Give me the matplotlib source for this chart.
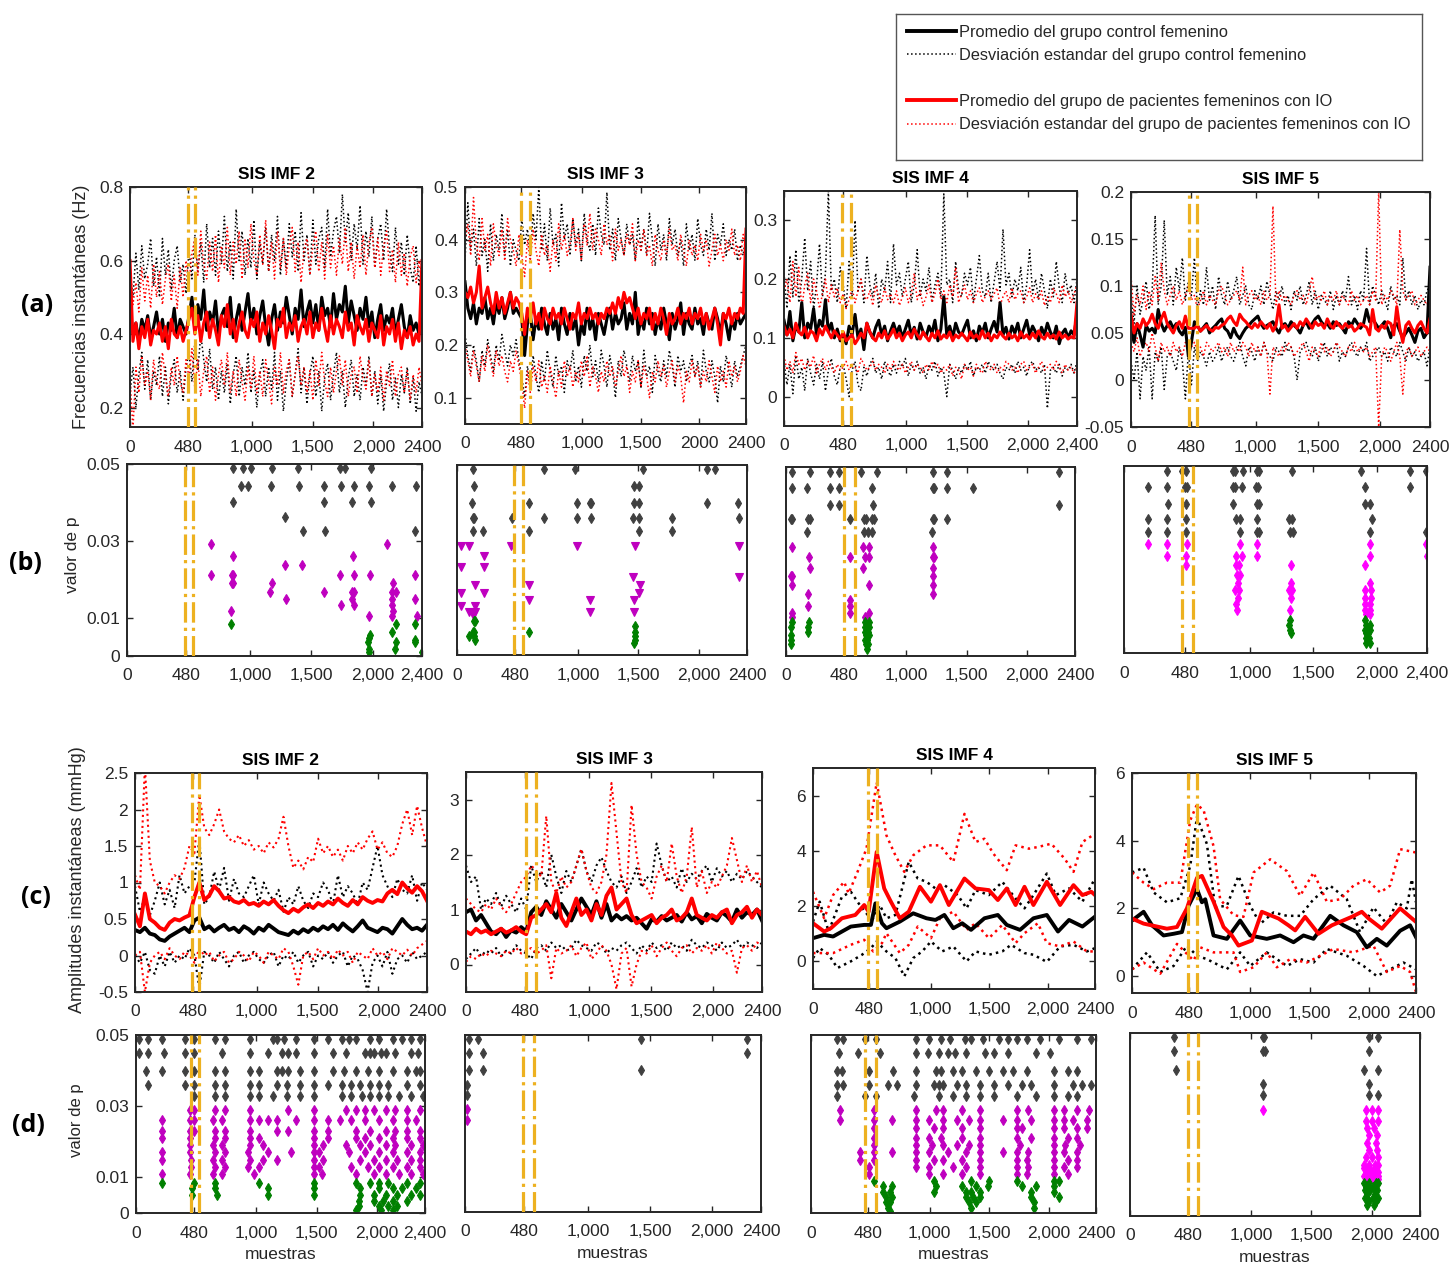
import numpy as np
import matplotlib
matplotlib.use("Agg")
import matplotlib.pyplot as plt
from matplotlib.lines import Line2D

plt.rcParams['font.family'] = ['Liberation Sans', 'DejaVu Sans']

# ---------------------------------------------------------------- data
# Row (a): instantaneous frequencies, values in Hz x100 (a1,a2) or x1000 (a3,a4)
a1_ctrl_mean = [47,40,43,38,44,41,45,39,42,46,40,44,38,43,41,47,39,44,42,40,
                45,50,42,48,44,52,41,46,43,49,40,45,47,42,50,39,44,48,41,46,
                51,43,47,40,45,49,42,37,44,48,41,46,43,50,45,40,47,44,52,42,
                46,49,43,48,41,50,45,47,42,51,44,48,46,53,43,49,45,41,47,44,
                50,42,46,39,44,48,41,45,43,47,40,44,48,42,39,45,41,43,40,44]
a1_pat_mean = [60,38,43,36,42,39,44,37,41,40,43,38,42,36,44,40,39,42,38,41,
               44,47,40,45,38,43,46,39,44,41,37,45,42,48,40,44,38,43,46,41,
               39,44,42,46,38,43,40,45,41,36,44,42,47,39,43,41,45,38,42,44,
               40,46,39,43,41,47,42,38,45,40,44,42,39,46,41,43,37,45,42,40,
               44,38,43,41,39,45,37,42,40,44,38,43,36,41,39,42,37,40,38,60]
a1_ctrl_hi = [57,50,62,52,64,55,59,66,53,61,50,66,56,63,52,60,64,54,59,51,
              63,55,67,57,65,54,70,58,66,56,68,59,72,57,65,55,74,60,68,56,
              66,58,71,55,65,59,69,57,67,60,72,56,66,58,70,61,68,57,73,60,
              67,56,71,59,66,69,58,74,61,68,72,62,78,65,73,60,70,63,75,59,
              68,61,72,58,66,70,60,74,63,57,69,59,65,56,67,58,54,64,53,60]
a1_pat_hi = [56,48,54,46,58,49,56,47,59,50,57,48,55,59,49,56,47,58,50,60,
             54,62,66,56,68,59,55,65,57,67,54,64,58,69,56,65,59,68,55,66,
             58,70,60,56,67,59,71,57,65,55,68,58,66,56,64,69,57,65,54,63,
             66,56,64,68,57,65,55,67,58,64,56,66,59,69,57,65,55,64,58,67,
             56,65,69,58,66,56,64,68,57,63,54,65,56,62,53,61,64,54,60,52]
a1_ctrl_lo = [24,31,20,29,35,25,33,22,30,26,34,23,31,21,29,33,24,30,22,31,
              35,27,38,30,40,33,27,36,25,31,22,30,24,32,21,29,34,23,31,26,
              35,24,30,20,29,33,23,31,25,35,22,30,19,27,33,23,29,36,24,31,
              21,29,34,23,30,19,28,32,22,29,35,24,30,20,28,33,23,29,22,31,
              26,34,23,30,21,29,19,27,32,22,28,20,29,24,31,21,28,19,27,23]
a1_pat_lo = [28,14,31,24,34,26,30,22,33,27,25,35,28,23,31,26,34,27,24,33,
             28,36,25,33,23,30,34,24,31,22,29,33,26,35,24,30,23,33,27,22,
             31,25,34,24,30,23,33,27,21,31,26,35,24,30,33,23,29,34,26,31,
             24,30,22,33,26,35,27,23,31,24,30,34,26,33,23,29,31,24,34,28,
             25,33,23,29,24,31,22,30,26,33,23,29,31,24,30,22,29,24,31,26]

a2_ctrl_mean = [32,27,25,28,24,27,26,29,25,27,24,28,26,29,25,27,30,26,27,26,
                25,18,24,26,21,25,23,27,24,22,26,23,25,21,27,24,22,26,23,25,
                20,24,22,27,23,25,21,26,24,22,25,27,23,26,24,25,28,23,26,24,
                30,22,25,23,27,24,26,22,25,23,27,24,21,26,23,25,28,22,26,24,
                23,27,24,25,22,26,24,23,27,25,22,26,24,21,25,23,26,24,25,26]
a2_pat_mean = [30,29,31,28,30,35,27,29,31,28,26,30,27,29,26,28,30,27,29,28,
               26,22,27,25,28,24,26,23,27,25,24,27,25,26,24,27,25,23,26,25,
               28,24,26,25,27,25,26,24,26,25,27,26,28,26,29,27,30,28,29,27,
               25,27,24,26,25,27,23,26,24,27,25,22,26,24,25,27,24,26,25,27,
               24,26,25,27,24,26,23,25,27,24,20,26,25,27,24,26,25,27,26,42]
a2_ctrl_hi = [36,47,38,42,35,44,37,40,34,43,36,41,38,45,37,42,35,40,38,36,
              44,39,42,37,45,40,50,38,43,36,46,39,41,35,47,40,43,37,44,39,
              42,36,45,40,38,43,37,46,41,39,49,38,42,36,44,40,37,43,39,41,
              36,44,38,42,37,45,40,35,43,38,41,36,44,39,42,37,40,35,43,38,
              41,36,44,39,37,42,38,45,36,41,39,43,37,40,38,42,36,39,37,41]
a2_pat_hi = [40,43,37,48,39,36,44,38,41,35,43,39,37,42,36,44,40,38,35,41,
             37,33,40,36,42,38,35,41,37,39,34,40,36,43,38,41,37,39,44,38,
             41,36,43,39,45,38,42,40,37,43,39,41,36,42,38,40,37,41,39,43,
             36,40,38,42,37,39,35,41,38,36,40,37,42,38,39,36,41,38,35,40,
             37,39,36,41,38,40,35,38,41,37,39,36,40,38,42,37,39,36,41,39]
a2_ctrl_lo = [22,18,15,20,17,13,19,16,21,18,15,20,17,22,19,16,20,18,21,17,
              14,10,16,12,18,14,11,17,13,19,15,12,18,14,16,11,17,15,19,13,
              16,12,18,15,20,14,17,13,19,16,12,18,15,10,17,14,19,16,13,18,
              15,17,12,19,14,16,11,18,15,13,17,14,19,16,12,18,15,17,13,16,
              18,14,17,12,19,15,13,17,14,9,16,13,18,15,12,17,14,16,18,20]
a2_pat_lo = [20,17,14,19,16,13,18,15,20,17,14,19,16,18,15,13,17,15,19,16,
             13,8,15,11,16,13,17,12,14,11,16,13,10,15,12,17,14,16,12,15,
             13,17,14,18,12,16,14,11,15,13,17,14,16,12,15,18,14,16,11,15,
             13,17,12,16,14,10,15,13,17,14,16,12,15,17,13,16,14,9,15,13,
             17,14,16,12,15,13,17,14,11,16,13,15,12,17,14,16,13,15,18,16]

a3_ctrl_mean = [130,105,145,95,120,110,160,100,125,115,150,105,130,120,165,110,125,100,115,95,
                108,90,120,105,140,100,115,80,125,110,100,118,130,105,120,95,112,125,108,120,
                100,115,130,105,118,98,125,110,102,120,108,130,95,115,170,105,120,100,125,110,
                105,118,130,100,112,95,120,108,125,100,115,128,110,160,105,118,98,120,108,125,
                100,115,130,105,120,110,95,118,105,125,110,100,120,90,108,115,100,112,105,140]
a3_pat_mean = [120,105,115,100,125,110,105,118,100,112,108,95,115,105,120,110,100,112,105,98,
               110,95,100,105,90,98,108,100,125,110,100,95,108,100,112,98,105,115,100,108,
               95,105,110,100,115,105,98,110,102,95,108,100,112,98,105,100,110,95,105,100,
               108,102,95,110,100,105,98,112,100,108,95,105,100,110,103,98,108,100,105,95,
               110,100,105,98,108,100,112,102,98,108,100,105,98,110,100,105,98,102,100,160]
a3_ctrl_hi = [210,150,240,170,250,160,200,270,180,230,150,190,260,170,210,350,180,200,160,220,
              190,150,230,170,300,180,200,160,240,190,170,210,150,200,180,230,160,260,190,210,
              170,200,230,160,190,250,170,200,180,220,160,190,210,170,345,190,200,160,230,180,
              170,210,190,220,160,200,240,180,170,210,160,195,230,180,285,190,210,170,200,180,
              220,160,190,250,175,200,165,210,180,150,200,170,230,185,160,210,175,190,160,200]
a3_pat_hi = [180,200,160,230,170,220,150,190,210,160,200,180,150,175,200,160,190,170,185,160,
             175,150,165,185,160,180,200,170,165,180,155,190,170,160,185,165,175,160,180,155,
             170,185,160,175,210,165,180,155,170,190,160,175,200,165,180,160,190,170,220,160,
             175,190,165,180,160,175,185,160,170,180,165,175,185,155,170,180,160,185,165,175,
             180,160,170,185,160,175,165,180,155,170,160,185,175,160,190,170,180,160,175,190]
a3_ctrl_lo = [60,20,55,5,70,30,50,10,65,40,20,55,30,60,10,45,65,35,20,50,
              55,30,0,45,60,20,10,50,35,55,65,40,50,30,60,45,35,55,40,60,
              50,65,35,55,45,60,40,50,30,55,45,60,35,50,40,0,55,45,30,50,
              40,55,45,60,35,50,45,55,40,60,50,45,55,40,30,50,45,55,40,60,
              45,50,35,55,60,45,50,40,55,-20,45,50,40,55,35,50,45,55,40,60]
a3_pat_lo = [70,45,60,40,75,55,65,45,60,50,70,40,55,65,45,60,50,40,55,45,
             50,60,45,55,50,40,65,55,45,50,60,45,55,50,40,55,45,60,50,45,
             55,40,50,60,45,55,50,40,55,45,60,50,55,40,50,45,55,35,50,45,
             30,55,45,50,35,55,45,40,60,50,45,55,40,50,45,60,55,45,50,40,
             55,60,45,50,55,40,50,60,45,50,55,45,60,50,40,55,45,50,40,50]

a4_ctrl_mean = [55,40,60,48,35,58,52,55,50,75,60,52,58,62,55,60,52,48,56,25,
                40,62,58,52,56,60,50,55,58,62,65,55,52,45,55,48,44,50,55,58,
                62,65,68,60,55,58,60,62,55,50,58,60,55,62,58,55,50,58,62,55,
                60,65,68,62,58,60,55,62,58,60,55,50,62,58,65,60,55,60,75,62,
                65,60,55,58,62,55,45,58,60,52,45,50,55,48,40,52,55,45,50,120]
a4_pat_mean = [70,50,60,55,65,58,62,70,60,55,65,72,60,55,50,58,62,55,68,55,
               55,55,58,52,55,58,54,52,56,55,58,60,65,68,62,58,70,65,62,58,
               55,60,56,62,58,55,60,52,58,80,55,58,52,56,60,55,62,58,65,60,
               55,62,58,60,55,65,58,55,62,58,55,60,56,58,52,55,60,58,56,48,
               75,55,52,58,55,62,60,48,78,55,40,58,62,55,50,58,62,55,50,65]
a4_ctrl_hi = [90,60,100,70,85,105,75,95,175,80,100,170,90,110,80,120,95,130,85,105,
              90,130,75,95,80,120,85,100,75,110,90,80,105,85,95,110,80,90,100,80,
              75,95,85,100,80,105,90,75,95,85,100,80,90,75,95,85,100,80,90,105,
              80,95,75,90,85,80,95,75,90,80,95,85,110,80,90,75,95,85,140,80,
              100,90,80,95,85,75,100,85,90,80,130,85,95,80,90,75,85,80,95,100]
a4_pat_hi = [110,70,90,80,100,75,95,80,110,85,125,95,80,90,100,85,95,80,90,100,
             85,90,75,85,95,80,90,85,80,95,100,90,80,85,90,95,85,120,80,90,
             95,85,90,80,95,85,90,185,80,95,85,90,85,80,90,95,85,90,80,95,
             110,85,90,85,95,80,90,85,95,80,90,85,80,95,85,90,80,85,90,80,
             95,85,200,80,90,85,95,90,80,160,95,85,90,95,80,85,90,85,80,90]
a4_ctrl_lo = [20,0,30,-20,25,10,35,-20,30,20,35,-10,25,30,20,10,35,20,-20,30,
              -5,35,20,30,25,15,30,20,25,35,20,30,35,25,20,30,40,25,15,35,
              30,20,35,25,40,30,25,20,35,30,25,40,30,35,25,0,30,35,40,30,
              25,35,20,30,40,25,35,30,40,20,30,25,35,40,30,25,35,30,40,20,
              25,30,35,25,30,20,35,30,25,40,30,20,35,25,30,20,25,30,15,35]
a4_pat_lo = [40,30,45,25,35,40,30,50,35,20,40,30,35,25,40,30,35,25,40,30,
             35,40,30,35,25,40,35,30,35,40,30,35,25,40,30,35,30,40,35,25,
             40,30,35,25,40,30,-15,35,30,25,35,30,40,35,25,30,35,40,30,20,
             35,30,25,40,30,35,25,30,40,35,30,25,35,30,40,30,35,30,35,25,
             30,35,-50,25,35,30,20,30,40,25,-15,30,35,25,30,35,25,30,35,30]

# Row (c): instantaneous amplitudes, mmHg x100 (c1, c2)
c1_ctrl_mean = [35,32,38,30,28,22,20,26,30,34,38,32,48,52,36,40,33,38,42,35,
                38,32,40,36,30,38,34,42,37,32,30,28,34,30,36,32,38,34,40,36,
                42,35,44,38,33,40,48,38,35,32,38,36,30,40,50,42,36,38,34,42]
c1_pat_mean = [56,40,85,50,45,38,35,45,50,48,52,55,80,100,76,82,95,88,78,80,
               74,72,76,70,72,68,74,70,76,68,62,58,64,60,66,70,65,72,68,74,
               70,78,72,68,76,70,80,75,72,76,74,85,90,84,100,92,86,95,88,75]
c1_pat_hi = [110,90,260,130,100,95,85,100,110,105,120,150,140,220,175,165,180,200,170,160,
             155,165,150,158,145,150,140,155,148,160,190,150,120,130,118,135,128,160,140,150,
             135,145,130,150,140,155,145,160,170,145,155,140,135,150,180,200,165,205,175,150]
c1_pat_lo = [0,5,-50,-10,0,5,-5,10,0,-5,5,0,-10,10,0,5,-8,0,5,-10,
             -5,5,0,-8,5,0,-10,5,0,-5,10,5,-15,-40,0,5,-5,10,0,5,
             -5,8,0,5,-10,5,0,-5,10,0,5,-5,10,5,0,8,0,10,15,20]
c1_ctrl_hi = [95,60,80,55,75,100,70,90,65,110,85,95,100,160,70,80,115,90,120,75,
              105,85,80,95,110,70,100,85,75,90,60,80,70,95,75,65,85,80,100,90,
              70,110,80,95,85,70,100,90,120,150,110,95,80,105,90,85,110,75,100,90]
c1_ctrl_lo = [0,-10,5,-20,-25,0,-15,5,-10,0,-5,10,0,-45,5,0,-10,5,-5,-15,
              0,5,-10,0,5,-5,-10,0,5,-15,0,-5,5,-10,0,5,-15,0,-5,5,
              -10,0,5,-15,0,-5,-20,-50,-10,0,-15,5,-25,-5,0,-10,5,-5,0,5]

c2_ctrl_mean = [95,100,80,90,75,60,55,65,50,62,58,68,60,95,105,90,115,100,85,110,
                95,80,100,120,105,90,115,85,110,80,90,82,88,80,85,75,65,82,78,88,
                80,85,90,78,95,82,88,75,92,85,80,95,88,78,100,85,95,90,100,80]
c2_pat_mean = [60,55,65,58,62,55,60,65,58,62,68,60,55,85,90,100,110,95,130,85,
               70,95,120,90,100,80,110,90,125,140,100,110,120,90,75,80,85,90,75,85,
               90,100,80,85,95,120,90,85,80,90,85,95,100,75,90,95,105,85,100,90]
c2_pat_hi = [120,110,100,95,110,100,120,105,95,110,130,150,160,180,170,160,270,150,130,160,
             140,150,180,210,170,140,130,150,200,330,240,150,130,290,200,150,140,120,160,180,
             150,220,160,130,160,250,140,170,130,150,140,160,180,230,190,150,180,150,170,140]
c2_pat_lo = [5,15,10,20,15,25,20,15,25,20,30,20,25,30,20,25,35,-25,30,20,
             25,35,15,30,40,10,20,35,25,0,-45,20,30,-40,0,25,20,35,15,30,
             40,25,15,30,35,20,30,25,35,20,40,30,20,25,-15,30,35,25,40,35]
c2_ctrl_hi = [180,150,160,100,120,110,130,105,125,110,95,120,100,180,150,170,140,200,160,130,
              170,150,180,210,170,150,180,195,170,150,140,160,130,150,175,140,160,150,220,180,
              150,160,140,175,150,165,155,170,180,150,175,160,170,150,165,155,170,160,150,140]
c2_ctrl_lo = [10,20,30,15,25,20,30,15,25,20,35,25,20,10,30,35,25,40,30,35,
              25,30,45,35,30,25,40,35,20,30,25,35,40,30,20,35,25,40,30,35,
              25,40,30,35,25,45,35,30,40,35,25,40,30,35,45,30,40,35,30,40]

# c3, c4: smooth curves, (sample, mmHg)
c3_ctrl_mean_x = [0,95,171,322,436,493,531,587,625,739,853,966,1042,1118,1194,1270,1345,1459,1573,1649,1762,1876,1990,2085,2179,2293,2400]
c3_ctrl_mean = [0.84,0.96,0.9,1.26,1.32,1.32,2.1,1.38,1.2,1.44,1.74,1.56,1.5,1.68,1.2,1.38,1.14,1.56,1.68,1.32,1.14,1.56,1.68,1.08,1.5,1.26,1.62]
c3_pat_mean_x = [0,95,152,246,360,436,474,542,606,663,739,815,910,1004,1080,1156,1289,1383,1497,1573,1649,1724,1800,1876,1990,2103,2217,2293,2369,2400]
c3_pat_mean = [1.38,1.08,1.2,1.56,1.68,2.04,1.8,3.96,2.64,2.16,1.56,1.8,2.7,2.16,2.76,2.04,3.0,2.64,2.58,2.22,2.64,2.04,2.7,2.04,2.88,2.04,2.76,2.4,2.52,2.4]
c3_pat_hi_x = [0,95,171,265,303,379,455,542,625,701,777,853,966,1080,1194,1289,1383,1459,1535,1649,1724,1838,1914,2028,2141,2217,2293,2400]
c3_pat_hi = [2.52,1.56,2.4,2.88,2.46,3.24,4.08,6.48,4.56,3.84,3.24,3.84,4.2,4.2,3.6,5.34,4.32,4.44,3.9,3.3,4.2,4.08,4.14,4.26,3.72,3.24,4.32,4.62]
c3_pat_lo_x = [0,171,322,436,512,587,625,739,815,891,1004,1080,1194,1307,1383,1497,1611,1724,1800,1914,1990,2103,2217,2331,2400]
c3_pat_lo = [0.3,0.3,0.6,0.78,0.36,0.66,1.02,0.3,0.6,1.26,0.84,1.56,1.8,1.14,1.38,0.84,1.32,0.66,1.02,1.38,0.66,0.54,0.72,0.36,0.36]
c3_ctrl_hi_x = [0,57,133,246,322,398,466,512,568,625,701,815,891,966,1042,1118,1232,1307,1383,1497,1611,1724,1800,1876,1990,2066,2179,2293,2400]
c3_ctrl_hi = [1.44,2.16,1.08,2.34,2.52,2.04,1.68,1.56,2.04,1.56,1.68,3.6,3.0,2.88,2.64,2.76,2.4,1.92,2.58,2.4,2.88,2.28,1.92,2.4,3.18,2.4,2.64,2.16,3.0]
c3_ctrl_lo_x = [0,57,133,208,322,417,493,542,625,701,777,853,929,1004,1099,1194,1307,1383,1497,1611,1686,1800,1876,1990,2103,2217,2331,2400]
c3_ctrl_lo = [0.12,0.48,0.24,-0.24,0.0,0.24,0.48,0.72,0.36,0.12,-0.54,0.12,0.36,0.72,0.36,0.54,0.0,0.36,0.24,0.36,0.6,0.3,0.24,-0.02,0.54,0.6,0.36,0.48]

c4_ctrl_mean_x = [0,98,169,267,352,422,478,549,591,619,689,802,914,999,1139,1252,1365,1449,1534,1675,1787,1899,1984,2069,2153,2266,2350,2400]
c4_ctrl_mean = [1.64,1.9,1.5,1.2,1.25,1.3,2.08,2.57,2.18,2.27,1.2,1.1,1.64,1.2,1.1,1.2,1.0,1.2,1.1,1.78,1.5,1.3,0.85,1.1,0.9,1.34,1.5,1.15]
c4_pat_mean_x = [0,98,295,380,464,549,591,689,774,844,900,1013,1097,1238,1322,1379,1463,1576,1689,1857,1942,2000,2111,2266,2400]
c4_pat_mean = [1.7,1.55,1.4,1.45,2.0,2.9,2.96,2.2,1.45,1.2,0.9,1.05,1.9,1.7,1.5,1.35,1.75,1.25,1.5,1.75,1.9,1.7,1.4,2.0,1.6]
c4_pat_hi_x = [0,98,183,295,408,492,549,605,689,745,858,942,1027,1168,1309,1421,1534,1646,1759,1871,1984,2097,2181,2266,2400]
c4_pat_hi = [3.06,2.76,2.57,2.76,2.76,4.6,5.07,4.9,3.84,2.27,1.8,1.75,3.06,3.45,3.1,2.37,3.06,2.2,2.27,2.67,2.86,2.47,2.67,3.75,3.65]
c4_pat_lo_x = [0,98,239,380,520,577,689,858,914,1027,1139,1224,1337,1477,1703,1871,2040,2153,2266,2350,2400]
c4_pat_lo = [0.2,0.4,0.07,0.95,0.46,0.85,0.7,0.7,0.12,0.26,0.7,0.26,0.5,0.4,0.8,0.7,0.9,0.12,0.3,0.12,-0.47]
c4_ctrl_hi_x = [0,98,183,295,408,492,549,633,703,802,900,999,1083,1196,1309,1421,1534,1675,1815,1927,2040,2153,2238,2322,2364,2400]
c4_ctrl_hi = [3.06,3.2,2.47,2.18,2.3,3.25,4.7,3.9,2.03,2.08,2.96,2.08,1.54,1.88,1.78,1.78,2.27,2.67,2.27,1.3,2.03,1.54,2.18,2.0,2.86,2.18]
c4_ctrl_lo_x = [0,127,239,352,464,549,633,802,914,999,1139,1309,1421,1534,1646,1815,1956,2069,2181,2294,2400]
c4_ctrl_lo = [0.2,0.7,0.12,0.3,0.9,0.6,0.5,0.2,0.7,0.3,0.7,0.3,0.5,0.4,0.8,0.6,0.3,0.0,0.2,0.4,0.2]

# Onset markers (two vertical dash-dot lines per panel), in samples
onset_a = [[476, 536], [476, 555], [478, 546], [467, 526]]
onset_b = [[473, 534], [474, 546], [484, 570], [456, 549]]
onset_c = [[471, 528], [484, 564], [466, 542], [470, 549]]
onset_d = [[460, 521], [472, 562], [452, 545], [483, 560]]

# Row (b) and (d): p-values {p: [sample positions]}
b1_p = {0.049: [860,941,1006,1177,1389,1733,1774,1982],
        0.0444: [925,982,1169,1399,1603,1738,1849,1969,2159,2351],
        0.0402: [860,1603,1828,1982], 0.0361: [1285], 0.0326: [1429,1611,2340],
        0.0292: [681,2113], 0.0261: [860,1836], 0.0236: [1285,1421],
        0.0211: [681,852,865,1733,1847,1977,2343], 0.0189: [852,865,1177,2161],
        0.0167: [1163,1603,1828,1847,2153,2186], 0.0148: [1291,1828,2159,2343],
        0.0133: [1738,1847,2153], 0.0116: [846,2167], 0.0105: [1969,2153,2357],
        0.0083: [846,2188,2343], 0.0063: [2153], 0.0055: [1977], 0.0047: [1969],
        0.0042: [2343], 0.0036: [1963,2186,2343], 0.0017: [1969,2180], 0.0011: [1969,2397]}
b2_p = {0.049: [130,723,977,1539,2069,2138], 0.0446: [138,1462,1509],
        0.0401: [124,593,993,1103,1112,1462,1503,2069,2326],
        0.036: [135,141,455,723,993,1112,1454,1509,1777,2331],
        0.0326: [130,212,593,1509,1777],
        0.0288: [33,97,450,993,1470,2331], 0.026: [221], 0.0232: [33,221],
        0.0206: [1454,2331], 0.0184: [146,593,1512], 0.0164: [33,221,1503],
        0.0145: [593,1103,1462], 0.013: [33,146], 0.0114: [97,152,1103,1462],
        0.0105: [130], 0.009: [138,146], 0.0076: [1470], 0.0061: [132,143,593,1470],
        0.0051: [97,138,1470], 0.0039: [152,1470], 0.0031: [1462]}
b3_p = {0.0488: [50,196,362,440,625,755,1217,1341,2270],
        0.0444: [50,174,362,440,711,1217,1230,1341,1551],
        0.040: [362,440,722,2270],
        0.0362: [41,50,180,196,534,644,663,716,727,1217,1230,1341],
        0.0327: [174,644,677,716,1211],
        0.0289: [50,636,686,1219], 0.0261: [188,534,652,686,1217,1225],
        0.0234: [196,636,1219], 0.0212: [41,50,1219], 0.0188: [50,686,1219],
        0.0165: [182,1219], 0.0148: [534], 0.0133: [182,534], 0.0114: [50,534,686],
        0.0104: [50,658], 0.009: [50,188,658,686], 0.0077: [41,182,652,691],
        0.0064: [182,652,680], 0.0055: [41,663,686], 0.0042: [41,652,672],
        0.0033: [41,663,677], 0.0019: [672]}
b4_p = {0.0487: [338,456,491,860,878,944,1050,1071,1334,1880,2263,2394],
        0.0444: [193,338,483,501,860,878,931,1044,1063,1907,2263],
        0.0398: [351,491,860,1050,1071,1907,1951],
        0.0358: [193,338,491,891,918,1050,1308,1329,1965],
        0.0324: [193,338,491,918,1050,1071,1313,1340,1951,2394],
        0.0291: [193,338,496,918,1055,1951,2394],
        0.0259: [338,491,886,931,1055,1951,2400],
        0.0234: [491,891,912,1326,1907], 0.0209: [897,918], 0.0187: [904,1326,1951],
        0.0169: [883,912,1305,1334,1907,1959], 0.0148: [904,1326,1907,1959],
        0.0131: [891,1907,1951], 0.0115: [897,1313,1907,1951], 0.0105: [1920,1951],
        0.0089: [1313,1907], 0.0075: [1308,1920,1946], 0.0062: [1313,1907,1951],
        0.0053: [1326,1920,1933], 0.004: [1914,1941], 0.0027: [1920,1946]}

d1_p = {0.049: [23,100,215,406,483,659,736,943,1135,1173,1227,1327,1480,1595,1710,1771,1825,1940,2017,2132,2209,2285,2362],
        0.045: [23,100,230,406,483,713,943,1097,1212,1265,1327,1480,1633,1748,1902,1940,1978,2032,2078,2155,2285,2339],
        0.040: [84,215,406,483,659,736,943,1020,1173,1212,1265,1365,1480,1633,1725,1825,1925,2017,2132,2247,2323,2362],
        0.036: [100,406,483,659,736,943,1020,1173,1250,1365,1480,1595,1710,1787,1863,1940,2017,2093,2247,2362],
        0.033: [483,659,736,943,1020,1135,1250,1365,1480,1710,1787,1879,1940,2017,2093,2185,2285,2385],
        0.029: [445,483,659,736,943,1265,1480,1748,1825,1902,1978,2078,2155,2247,2362],
        0.026: [215,445,483,636,713,943,1020,1097,1173,1327,1480,1595,1695,1787,1902,2017,2132,2247,2323],
        0.023: [215,445,483,652,736,943,1173,1265,1480,1595,1825,1940,2078,2155,2247,2362],
        0.021: [215,445,659,736,943,1020,1480,1595,1825,1902,2017,2132,2247,2362],
        0.019: [445,636,713,943,1058,1480,1557,1748,1863,1940,2078,2155,2285,2385],
        0.017: [215,445,659,736,928,1097,1288,1480,1518,1771,1902,2017,2132,2247,2362],
        0.015: [215,460,636,713,943,1058,1173,1480,1557,1863,1978,2078,2170,2285,2362],
        0.013: [460,659,736,928,1020,1480,1518,1787,1925,2017,2132,2247,2362],
        0.011: [215,445,636,713,981,1480,1541,1825,1978,2078,2185,2285,2385],
        0.0085: [215,483,659,1020,1480,1825,1940,2017,2093,2247,2362],
        0.007: [468,659,1097,1480,1863,2017,2132,2209,2323],
        0.005: [468,675,1097,1480,1863,1978,2078,2170,2285,2362],
        0.0035: [1848,1978,2055,2132,2247], 0.002: [1848,2017,2093,2170],
        0.0008: [1825,2032,2132]}
d2_p = {0.049: [30,105,1425,2288], 0.045: [30,150,2288], 0.040: [30,150,1425],
        0.036: [15], 0.033: [15], 0.029: [15], 0.026: [15]}
d3_p = {0.049: [218,273,452,545,880,997,1091,1169,1293,1348,1449,1581,1659,1737,1815,1932,2088,2243,2360],
        0.045: [234,397,584,880,982,1075,1153,1215,1309,1465,1542,1659,1893,2010],
        0.040: [218,257,491,693,880,1052,1098,1192,1270,1387,1503,1620,1698,1815,2049,2166,2243],
        0.036: [218,273,491,647,724,880,1036,1075,1114,1231,1309,1426,1542,1659,1776,1854,2049,2205,2282,2360],
        0.033: [218,452,545,865,1075,1192,1309,1426,1542,1737,1893,2049,2166,2243],
        0.029: [241,530,880,1052,1114,1270,1426,1737,1831,2049,2127,2243,2345],
        0.026: [241,530,686,880,997,1114,1231,1332,1426,1620,1737,1854,2049,2127,2205,2321],
        0.024: [530,880,1036,1114,1270,1426,1737,1776,2049,2127,2243,2321],
        0.021: [530,880,997,1091,1270,1426,1737,1854,2049,2166,2243],
        0.019: [530,880,1020,1114,1231,1332,1426,1760,2049,2142,2267],
        0.017: [413,530,686,880,997,1153,1309,1426,1620,1737,1831,2049,2127,2243],
        0.015: [413,530,880,1036,1114,1270,1426,1737,1815,2049,2166,2243],
        0.013: [491,880,997,1192,1309,1426,1737,1831,2049,2127,2243],
        0.011: [491,997,1114,1270,1426,1737,1815,2049,2166],
        0.009: [530,1036,1348,1503,1737,2049,2088],
        0.0075: [608,686,1052,1270,1387,1488,1776,1893,2049],
        0.006: [608,662,1036,1309,1348,1426,1854,2049],
        0.0045: [631,686,1309,1363,1426,1854,2088],
        0.003: [631,662,1332,1387,1877], 0.0015: [647,1348,1877], 0.0005: [662]}
d4_p = {0.049: [368,1097,1112,1978,2055], 0.045: [368,1097,1120,1978],
        0.040: [383,1940,2055], 0.036: [1097,1978], 0.033: [1097,1978,2055],
        0.029: [1097,1955,2001,2055], 0.026: [1955,2001,2055], 0.024: [1963,2017],
        0.022: [1978,2040], 0.020: [1963,2032], 0.018: [1978,2040],
        0.016: [1955,2001,2055], 0.014: [1940,1978,2024,2055], 0.013: [1940,1978,2024],
        0.012: [1955,2001,2055], 0.011: [1940,1978,2024,2055], 0.010: [1955,2009,2055],
        0.009: [1940,1978,2032,2055], 0.008: [1955,2009], 0.007: [1948,1986,2040],
        0.006: [1963,2024], 0.005: [1948,2009,2055], 0.004: [1978,2032], 0.003: [1963,2017]}

titles = ['SIS IMF 2', 'SIS IMF 3', 'SIS IMF 4', 'SIS IMF 5']
xtick_pos = [0, 480, 1000, 1500, 2000, 2400]
xlabels_a = [['0','480','1,000','1,500','2,000','2400'], ['0','480','1,000','1,500','2000','2400'],
             ['0','480','1,000','1,500','2,000','2,400'], ['0','480','1,000','1,500','2,000','2400']]
xlabels_b = [['0','480','1,000','1,500','2,000','2,400'], ['0','480','1,000','1,500','2,000','2400'],
             ['0','480','1,000','1,500','2,000','2400'], ['0','480','1,000','1,500','2,000','2,400']]
xlabels_c = [['0','480','1,000','1,500','2,000','2400']] * 4
xlabels_d = [['0','480','1,000','1,500','2,000','2,400'], ['0','480','1,000','1,500','2,000','2400'],
             ['0','480','1,000','1,500','2,000','2400'], ['0','480','1,000','1,500','2,000','2400']]
legend_labels = ['Promedio del grupo control femenino',
                 'Desviación estandar del grupo control femenino',
                 ' ',
                 'Promedio del grupo de pacientes femeninos con IO',
                 'Desviación estandar del grupo de pacientes femeninos con IO']

# ---------------------------------------------------------------- styling
ORANGE = '#EDB120'
GRAY = '#404040'
GREEN = '#008000'
TXT = '#262626'

W, H = 1450, 1268
fig = plt.figure(figsize=(W / 100, H / 100), dpi=100)


def box(l, t, r, b):
    return [l / W, 1 - b / H, (r - l) / W, (b - t) / H]


def style(ax, xl, yt=None, ytl=None, fs=12.5):
    ax.set_xlim(0, 2400)
    ax.set_xticks(xtick_pos)
    ax.set_xticklabels(xl)
    if yt is None:
        ax.set_yticks([])
    else:
        ax.set_yticks(yt)
        ax.set_yticklabels(ytl)
    ax.tick_params(direction='in', top=True, right=True, length=4, width=1,
                   labelsize=fs, colors=TXT, pad=5)
    ax.tick_params(axis='x', pad=9)
    for s in ax.spines.values():
        s.set_linewidth(1.4)
        s.set_color(TXT)


def onset(ax, xs_):
    for v in xs_:
        ax.axvline(v, color=ORANGE, ls='-.', lw=2.3, zorder=5)


def uni(vals, scale):
    v = np.asarray(vals, float) / scale
    return np.linspace(0, 2400, len(v)), v


def ts_panel(ax, ch, cl, ph, pl, cm, pm, scale, lwm=2.0, lwd=1.1):
    for vals, col in [(ch, 'k'), (cl, 'k'), (ph, 'r'), (pl, 'r')]:
        x, y = uni(vals, scale)
        ax.plot(x, y, color=col, ls=':', lw=lwd)
    x, y = uni(cm, scale)
    ax.plot(x, y, color='k', lw=lwm)
    x, y = uni(pm, scale)
    ax.plot(x, y, color='r', lw=lwm)


def p_panel(ax, pdict, mag, mag_marker='d'):
    for p, xs_ in pdict.items():
        if p > 0.03:
            col, mk = GRAY, 'd'
        elif p >= 0.01:
            col, mk = mag, mag_marker
        else:
            col, mk = GREEN, 'd'
        ax.plot(xs_, [p] * len(xs_), ls='none', marker=mk, color=col, ms=5.5,
                markeredgewidth=0.8)
    ax.set_ylim(0, 0.05)


# ---- row (a)
a_boxes = [(130, 187, 422, 427), (465, 187, 746, 424), (784, 191, 1077, 426), (1131, 192, 1430, 427)]
a_data = [(a1_ctrl_hi, a1_ctrl_lo, a1_pat_hi, a1_pat_lo, a1_ctrl_mean, a1_pat_mean, 100),
          (a2_ctrl_hi, a2_ctrl_lo, a2_pat_hi, a2_pat_lo, a2_ctrl_mean, a2_pat_mean, 100),
          (a3_ctrl_hi, a3_ctrl_lo, a3_pat_hi, a3_pat_lo, a3_ctrl_mean, a3_pat_mean, 1000),
          (a4_ctrl_hi, a4_ctrl_lo, a4_pat_hi, a4_pat_lo, a4_ctrl_mean, a4_pat_mean, 1000)]
a_ylim = [(0.147, 0.8), (0.05, 0.5), (-0.05, 0.35), (-0.05, 0.2)]
a_yt = [([0.2, 0.4, 0.6, 0.8], ['0.2', '0.4', '0.6', '0.8']),
        ([0.1, 0.2, 0.3, 0.4, 0.5], ['0.1', '0.2', '0.3', '0.4', '0.5']),
        ([0, 0.1, 0.2, 0.3], ['0', '0.1', '0.2', '0.3']),
        ([-0.05, 0, 0.05, 0.1, 0.15, 0.2], ['-0.05', '0', '0.05', '0.1', '0.15', '0.2'])]
for i in range(4):
    ax = fig.add_axes(box(*a_boxes[i]))
    d = a_data[i]
    ts_panel(ax, *d[:6], d[6], lwm=2.2, lwd=1.1)
    onset(ax, onset_a[i])
    ax.set_ylim(*a_ylim[i])
    style(ax, xlabels_a[i], *a_yt[i])
    ax.set_title(titles[i], fontsize=12.5, fontweight='bold', color='k', pad=6)

# ---- row (b)
b_boxes = [(127, 464, 422, 656), (457, 465, 747, 655), (786, 467, 1075, 656), (1124, 466, 1427, 653)]
b_data = [b1_p, b2_p, b3_p, b4_p]
for i in range(4):
    ax = fig.add_axes(box(*b_boxes[i]))
    p_panel(ax, b_data[i], '#FF00FF' if i == 3 else '#BF00BF', 'v' if i == 1 else 'd')
    onset(ax, onset_b[i])
    if i == 0:
        style(ax, xlabels_b[i], [0, 0.01, 0.03, 0.05], ['0', '0.01', '0.03', '0.05'])
    else:
        style(ax, xlabels_b[i])

# ---- row (c)
c_boxes = [(135, 773, 427, 992), (466, 772, 762, 992), (813, 768, 1095, 989), (1132, 773, 1416, 993)]
c_ylim = [(-0.5, 2.5), (-0.5, 3.5), (-1, 7), (-0.5, 6)]
c_yt = [([-0.5, 0, 0.5, 1, 1.5, 2, 2.5], ['-0.5', '0', '0.5', '1', '1.5', '2', '2.5']),
        ([0, 1, 2, 3], ['0', '1', '2', '3']),
        ([0, 2, 4, 6], ['0', '2', '4', '6']),
        ([0, 2, 4, 6], ['0', '2', '4', '6'])]
c_uni = [(c1_ctrl_hi, c1_ctrl_lo, c1_pat_hi, c1_pat_lo, c1_ctrl_mean, c1_pat_mean),
         (c2_ctrl_hi, c2_ctrl_lo, c2_pat_hi, c2_pat_lo, c2_ctrl_mean, c2_pat_mean)]
c_xy = [[(c3_ctrl_hi_x, c3_ctrl_hi), (c3_ctrl_lo_x, c3_ctrl_lo), (c3_pat_hi_x, c3_pat_hi),
         (c3_pat_lo_x, c3_pat_lo), (c3_ctrl_mean_x, c3_ctrl_mean), (c3_pat_mean_x, c3_pat_mean)],
        [(c4_ctrl_hi_x, c4_ctrl_hi), (c4_ctrl_lo_x, c4_ctrl_lo), (c4_pat_hi_x, c4_pat_hi),
         (c4_pat_lo_x, c4_pat_lo), (c4_ctrl_mean_x, c4_ctrl_mean), (c4_pat_mean_x, c4_pat_mean)]]
for i in range(4):
    ax = fig.add_axes(box(*c_boxes[i]))
    if i < 2:
        ts_panel(ax, *c_uni[i], 100, lwm=2.8, lwd=1.5)
    else:
        s = c_xy[i - 2]
        cols = ['k', 'k', 'r', 'r']
        for (x, y), col in zip(s[:4], cols):
            ax.plot(x, y, color=col, ls=':', lw=1.8)
        ax.plot(*s[4], color='k', lw=2.8)
        ax.plot(*s[5], color='r', lw=2.8)
    onset(ax, onset_c[i])
    ax.set_ylim(*c_ylim[i])
    style(ax, xlabels_c[i], *c_yt[i])
    ax.set_title(titles[i], fontsize=12.5, fontweight='bold', color='k', pad=6)

# ---- row (d)
d_boxes = [(136, 1035, 425, 1213), (465, 1035, 761, 1212), (811, 1035, 1096, 1213), (1130, 1033, 1420, 1216)]
d_data = [d1_p, d2_p, d3_p, d4_p]
for i in range(4):
    ax = fig.add_axes(box(*d_boxes[i]))
    p_panel(ax, d_data[i], '#FF00FF' if i == 3 else '#BF00BF')
    onset(ax, onset_d[i])
    if i == 0:
        style(ax, xlabels_d[i], [0, 0.01, 0.03, 0.05], ['0', '0.01', '0.03', '0.05'])
    else:
        style(ax, xlabels_d[i])
    ax.set_xlabel('muestras', fontsize=12.5, color=TXT, labelpad=5)

# ---- labels
fig.text(81 / W, 1 - 307 / H, 'Frecuencias instantáneas (Hz)', rotation=90, ha='center', va='center', fontsize=13, color=TXT)
fig.text(72 / W, 1 - 555 / H, 'valor de p', rotation=90, ha='center', va='center', fontsize=12.5, color=TXT)
fig.text(78 / W, 1 - 880 / H, 'Amplitudes instantáneas (mmHg)', rotation=90, ha='center', va='center', fontsize=13, color=TXT)
fig.text(76 / W, 1 - 1120 / H, 'valor de p', rotation=90, ha='center', va='center', fontsize=12, color=TXT)
for lab, (x, y) in zip(['(a)', '(b)', '(c)', '(d)'], [(37, 305), (25, 563), (36, 898), (28, 1125)]):
    fig.text(x / W, 1 - y / H, lab, ha='center', va='center', fontsize=18, fontweight='bold',
             family=['Open Sans', 'DejaVu Sans'])

# ---- legend
axl = fig.add_axes(box(896, 14, 1422, 160))
axl.set_xticks([]); axl.set_yticks([])
for s in axl.spines.values():
    s.set_color('#555555'); s.set_linewidth(1.0)
handles = [Line2D([], [], color='k', lw=2.8), Line2D([], [], color='k', ls=':', lw=1.1),
           Line2D([], [], color='none'), Line2D([], [], color='r', lw=2.8),
           Line2D([], [], color='r', ls=':', lw=1.1)]
axl.legend(handles, legend_labels, loc='upper left', frameon=False, fontsize=11.8,
           handlelength=3.0, handletextpad=0.2, labelspacing=0.5, borderaxespad=0.25,
           labelcolor=TXT)

fig.savefig('out.png', dpi=100)
